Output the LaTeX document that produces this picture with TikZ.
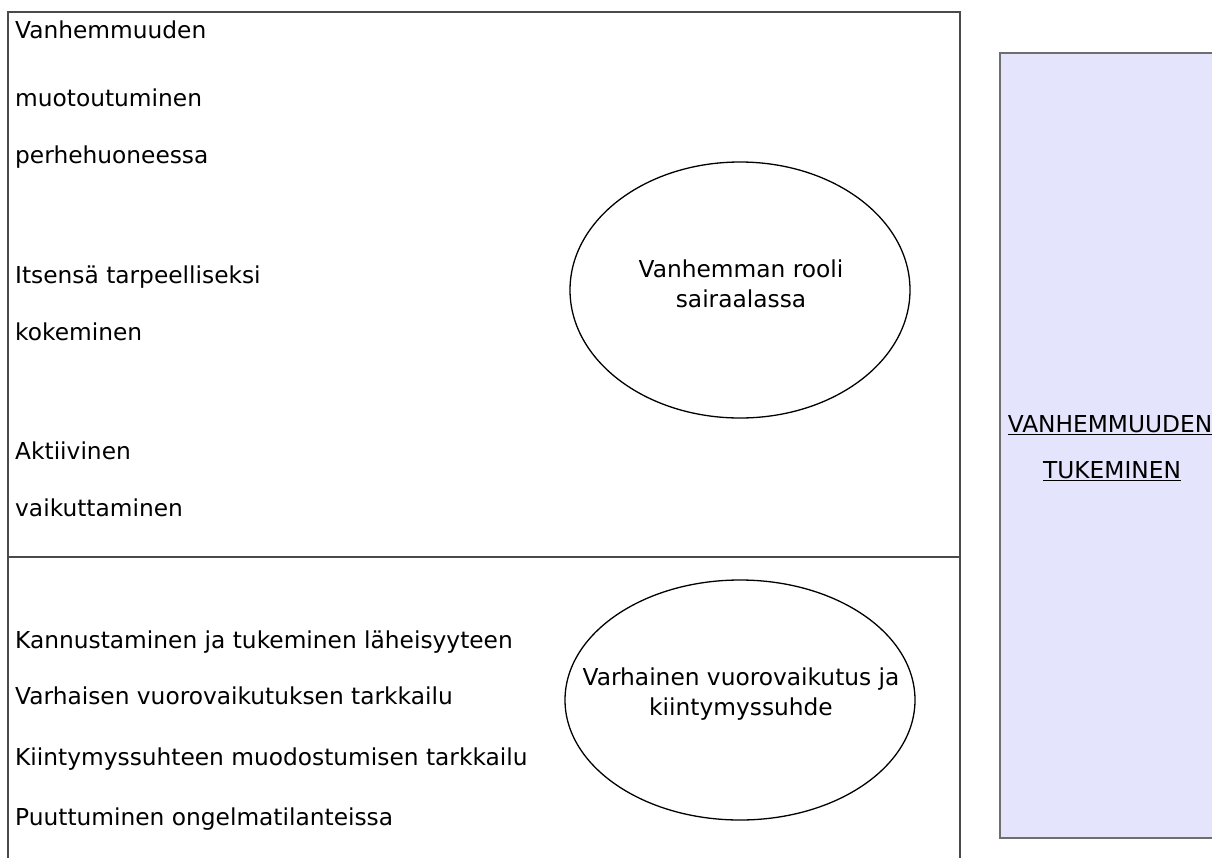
\documentclass[tikz,border=0pt]{standalone}
\usepackage{fontspec}
\setmainfont{DejaVu Sans}
\usetikzlibrary{shapes.geometric}
\definecolor{framegray}{HTML}{4A4A4A}
\definecolor{boxgray}{HTML}{6E6E6E}
\definecolor{lavender}{HTML}{E4E4FC}
\begin{document}
\begin{tikzpicture}[x=1pt,y=-1pt,
  lbl/.style={anchor=base west, inner sep=0pt, font=\fontsize{23.3}{28}\selectfont},
  oval/.style={ellipse, draw=black, line width=1.3pt, inner sep=0pt},
  ovaltext/.style={align=center, inner sep=0pt, font=\fontsize{23.3}{30}\selectfont},
  frame/.style={draw=framegray, line width=1.3pt},
  sidebox/.style={rectangle, draw=boxgray, line width=1.5pt, fill=lavender, inner sep=0pt},
  sidetext/.style={anchor=base, inner sep=0pt, font=\fontsize{23.3}{28}\selectfont}]
\useasboundingbox (0,0) rectangle (1212,857);
% outer frame
\coordinate (fbl) at (8,880);
\coordinate (ftl) at (8,12);
\coordinate (ftr) at (960,12);
\coordinate (fbr) at (960,880);
\coordinate (dl) at (8,557);
\coordinate (dr) at (960,557);
\draw[frame] (fbl) -- (ftl) -- (ftr) -- (fbr);
\draw[frame] (dl) -- (dr);
% right box
\node[sidebox, minimum width=224pt, minimum height=785pt] (side) at (1112,445.5) {};
\node[sidetext] (s1) at (1110,432) {\underline{VANHEMMUUDEN}};
\node[sidetext] (s2) at (1112,478) {\underline{TUKEMINEN}};
% top left texts
\node[lbl] (t1) at (15,38) {Vanhemmuuden};
\node[lbl] (t2) at (15,106) {muotoutuminen};
\node[lbl] (t3) at (15,163) {perhehuoneessa};
\node[lbl] (t4) at (15,283) {Itsensä tarpeelliseksi};
\node[lbl] (t5) at (15,340) {kokeminen};
\node[lbl] (t6) at (15,459) {Aktiivinen};
\node[lbl] (t7) at (15,516) {vaikuttaminen};
% bottom left texts
\node[lbl] (b1) at (15,648) {Kannustaminen ja tukeminen läheisyyteen};
\node[lbl] (b2) at (15,704) {Varhaisen vuorovaikutuksen tarkkailu};
\node[lbl] (b3) at (15,765) {Kiintymyssuhteen muodostumisen tarkkailu};
\node[lbl] (b4) at (15,825) {Puuttuminen ongelmatilanteissa};
% ellipses
\node[oval, minimum width=340pt, minimum height=256pt] (e1) at (740,290) {};
\node[ovaltext] (e1t) at (741,284) {Vanhemman rooli\\sairaalassa};
\node[oval, minimum width=350pt, minimum height=240pt] (e2) at (740,700) {};
\node[ovaltext] (e2t) at (741,694) {Varhainen vuorovaikutus ja\\kiintymyssuhde};
\end{tikzpicture}
\end{document}
